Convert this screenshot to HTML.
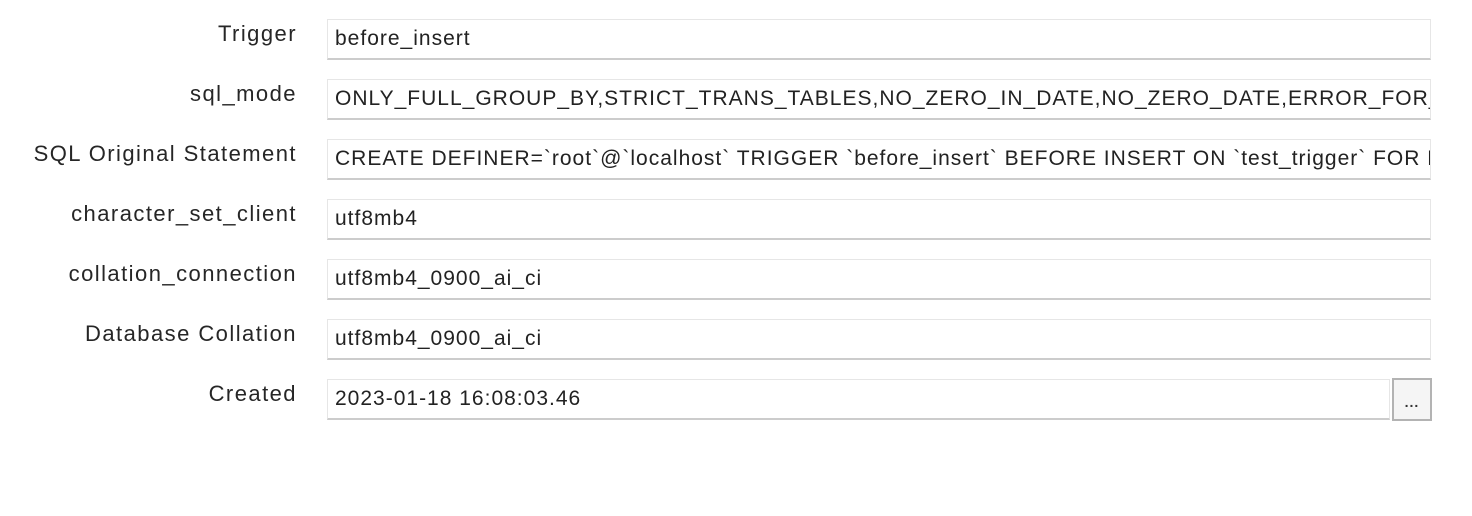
<!DOCTYPE html>
<html><head><style>
body{margin:0;width:1472px;height:516px;background:#fff;font-family:"Liberation Sans",sans-serif;position:relative;overflow:hidden}
.l{position:absolute;right:1175px;font-size:22px;letter-spacing:1.45px;color:#262626;line-height:24px;white-space:nowrap}
.f{position:absolute;left:327px;width:1104px;height:41px;border:1px solid #e6e6e6;border-bottom:2px solid #cccccc;box-sizing:border-box;font-size:21px;letter-spacing:1px;color:#222;line-height:38px;padding-left:7px;white-space:nowrap;overflow:hidden}
.b{position:absolute;left:1392px;top:378px;width:40px;height:43px;border:2px solid #b3b3b3;box-sizing:border-box;background:#f5f5f5;font-size:14px;font-weight:bold;letter-spacing:1px;text-align:center;line-height:44px;color:#333}
</style></head><body>
<div class="l" style="top:22px">Trigger</div><div class="f" style="top:19px">before_insert</div>
<div class="l" style="top:82px">sql_mode</div><div class="f" style="top:79px">ONLY_FULL_GROUP_BY,STRICT_TRANS_TABLES,NO_ZERO_IN_DATE,NO_ZERO_DATE,ERROR_FOR_DIVISION_BY_ZERO</div>
<div class="l" style="top:142px">SQL Original Statement</div><div class="f" style="top:139px">CREATE DEFINER=`root`@`localhost` TRIGGER `before_insert` BEFORE INSERT ON `test_trigger` FOR EACH ROW</div>
<div class="l" style="top:202px">character_set_client</div><div class="f" style="top:199px">utf8mb4</div>
<div class="l" style="top:262px">collation_connection</div><div class="f" style="top:259px">utf8mb4_0900_ai_ci</div>
<div class="l" style="top:322px">Database Collation</div><div class="f" style="top:319px">utf8mb4_0900_ai_ci</div>
<div class="l" style="top:382px">Created</div><div class="f" style="top:379px;width:1063px">2023-01-18 16:08:03.46</div>
<div class="b">...</div>
</body></html>
